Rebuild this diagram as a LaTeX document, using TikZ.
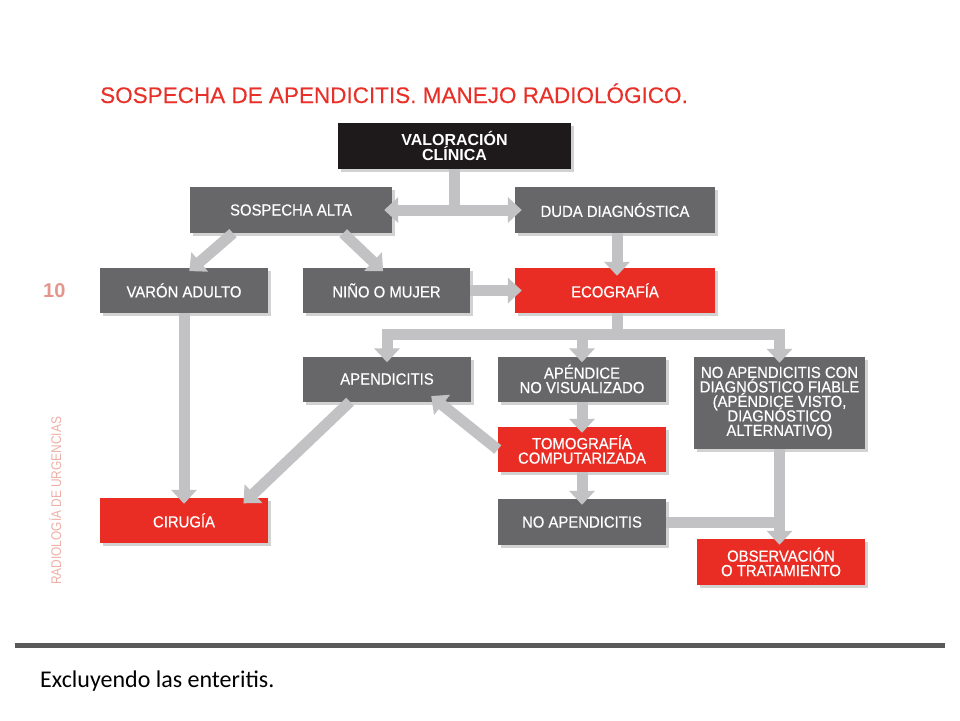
\documentclass[tikz,border=0pt]{standalone}
\usepackage{fontspec}
\setmainfont{Liberation Sans}
\newfontfamily\boxfont[FakeStretch=0.93,FakeBold=0.4]{Liberation Sans}
\newfontfamily\titlefont[FakeBold=0.3]{Liberation Sans}
\newfontfamily\sidefont[FakeStretch=0.85]{Liberation Sans}
\newfontfamily\notefont{Carlito}
\usetikzlibrary{arrows.meta,shadows}

\definecolor{boxgrey}{RGB}{103,103,105}
\definecolor{boxred}{RGB}{234,45,36}
\definecolor{boxblack}{RGB}{30,26,27}
\definecolor{arrgrey}{RGB}{194,194,196}
\definecolor{titlered}{RGB}{232,48,40}
\definecolor{pagesalmon}{RGB}{226,150,140}
\definecolor{sidesalmon}{RGB}{238,176,166}
\definecolor{rulegrey}{RGB}{89,89,89}

\newcommand\tightlines{\setlength{\lineskiplimit}{-20pt}\relax}

\begin{document}
\begin{tikzpicture}[x=1pt,y=-1pt,
    >={Triangle[width=25pt,length=14pt]},
    box/.style={rectangle,fill=boxgrey,text=white,inner sep=0pt,align=center,
        font=\boxfont\fontsize{16}{14.5}\selectfont\tightlines,
        drop shadow={shadow xshift=2.5pt,shadow yshift=-3pt,opacity=0.35}},
    redbox/.style={box,fill=boxred},
    sz/.style 2 args={minimum width=#1pt,minimum height=#2pt},
    arr/.style={draw=arrgrey,line width=11pt,line join=miter}]

    \fill[white] (0,0) rectangle (960,720);
    \useasboundingbox (0,0) rectangle (960,720);

    \node[anchor=base west,inner sep=0pt,text=titlered,font=\titlefont\fontsize{22.5}{24}\selectfont] (title) at (100,103)
        {SOSPECHA DE APENDICITIS. MANEJO RADIOLÓGICO.};
    \node[anchor=base west,inner sep=0pt,text=pagesalmon,font=\bfseries\fontsize{20}{20}\selectfont] (pagenum) at (43,297) {10};
    \node[rotate=90,anchor=base west,inner sep=0pt,text=sidesalmon,font=\sidefont\fontsize{14}{14}\selectfont] (side) at (61,585)
        {RADIOLOGÍA DE URGENCIAS};

    % boxes
    \node[box,sz={233}{46},fill=boxblack,font=\bfseries\fontsize{16}{15.5}\selectfont\tightlines] (valo) at (454.5,146) {VALORACIÓN\\CLÍNICA};
    \node[box,sz={202}{46}] (alta) at (291,210) {SOSPECHA ALTA};
    \node[box,sz={200}{46}] (duda) at (615,210) {DUDA DIAGNÓSTICA};
    \node[box,sz={168}{45}] (varon) at (184,290.5) {VARÓN ADULTO};
    \node[box,sz={167}{45}] (nino) at (386.5,290.5) {NIÑO O MUJER};
    \node[redbox,sz={200}{45}] (eco) at (615,290.5) {ECOGRAFÍA};
    \node[box,sz={168}{45}] (apend) at (387,379) {APENDICITIS};
    \node[box,sz={168}{45}] (novis) at (582,379) {APÉNDICE\\NO VISUALIZADO};
    \node[box,sz={171}{92}] (nocon) at (779.5,403) {NO APENDICITIS CON\\DIAGNÓSTICO FIABLE\\(APÉNDICE VISTO,\\DIAGNÓSTICO\\ALTERNATIVO)};
    \node[redbox,sz={168}{45}] (tc) at (582,449.5) {TOMOGRAFÍA\\COMPUTARIZADA};
    \node[box,sz={168}{46}] (noap) at (582,522) {NO APENDICITIS};
    \node[redbox,sz={168}{45}] (ciru) at (184,520.5) {CIRUGÍA};
    \node[redbox,sz={168}{46}] (obs) at (781,562) {OBSERVACIÓN\\O TRATAMIENTO};

    % arrows
    \draw[arr] (valo.south) -- (valo.south |- alta.east);
    \draw[arr,<->,shorten <=-8pt,shorten >=-7pt] (alta.east) -- (duda.west);
    \draw[arr,->,shorten >=-5pt] ([xshift=-58pt]alta.south) -- ([xshift=9pt]varon.north);
    \draw[arr,->,shorten >=-5pt] ([xshift=-49pt]alta.south east) -- ([xshift=-7pt]nino.north);
    \draw[arr,->,shorten >=-7pt] (nino.east) -- (eco.west);
    \draw[arr,->,shorten >=-8pt] ([xshift=2pt]duda.south) -- ([xshift=2pt]eco.north);
    \draw[arr] ([xshift=2pt]eco.south) -- ++(0,21) coordinate (split);
    \draw[arr,->,shorten >=-6pt] (split) -| (apend.north);
    \draw[arr,->,shorten >=-6pt] (split) -| (nocon.north);
    \draw[arr,->,shorten >=-6pt] (split -| novis.north) -- (novis.north);
    \draw[arr,->,shorten >=-6pt] (novis.south) -- (tc.north);
    \draw[arr,->,shorten >=-6pt] (tc.south) -- (noap.north);
    \draw[arr,->,shorten >=-9pt] (tc.west) -- ([xshift=-33pt]apend.south east);
    \draw[arr,->,shorten >=-8pt] ([xshift=-37pt]apend.south) -- ([xshift=-19pt]ciru.north east);
    \draw[arr,->,shorten >=-6pt] (varon.south) -- (ciru.north);
    \draw[arr] (noap.east) -- (noap.east -| nocon.south);
    \draw[arr,->,shorten >=-6pt] (nocon.south) -- (nocon.south |- obs.north);

    \draw[line width=4.5pt,draw=rulegrey] (15,645.5) -- (945,645.5);
    \node[anchor=base west,inner sep=0pt,font=\notefont\fontsize{24}{26}\selectfont] (note) at (40,687) {Excluyendo las enteritis.};
\end{tikzpicture}
\end{document}
